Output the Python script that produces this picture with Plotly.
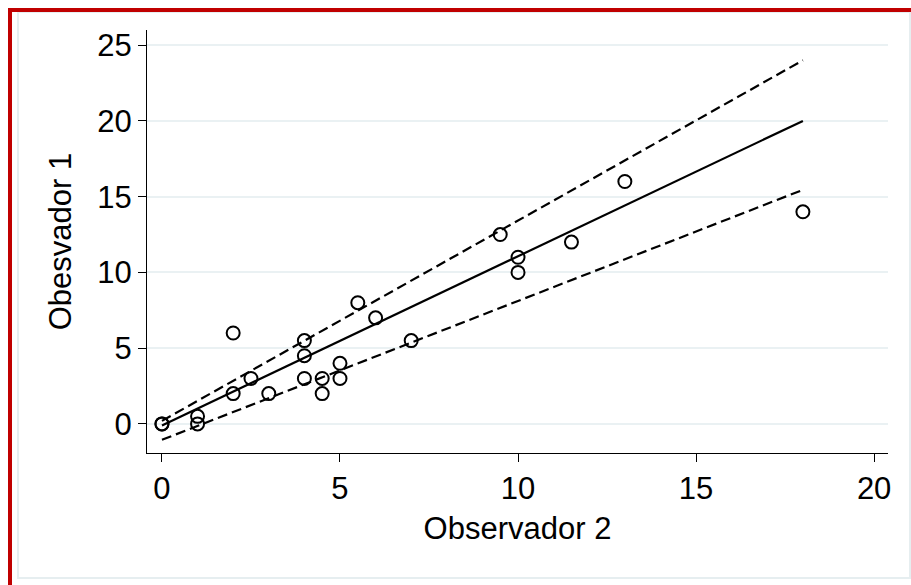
import plotly.graph_objects as go

# Observed points (Observador 2, Obesvador 1)
obs2 = [0, 0, 1, 1, 2, 2, 2.5, 3, 4, 4, 4, 4.5, 4.5, 5, 5, 5.5, 6, 7, 9.5, 10, 10, 11.5, 13, 18]
obs1 = [0, 0, 0.5, 0, 6, 2, 3, 2, 5.5, 4.5, 3, 3, 2, 4, 3, 8, 7, 5.5, 12.5, 11, 10, 12, 16, 14]

# Fitted line and limits (endpoints)
line_x = [0, 18]
fit_y = [-0.1, 20.0]
upper_y = [0.2, 24.0]
lower_y = [-1.05, 15.45]

x_ticks = [0, 5, 10, 15, 20]
y_ticks = [0, 5, 10, 15, 20, 25]

FONT = "Liberation Sans, Arial, Helvetica, sans-serif"

fig = go.Figure()
fig.add_trace(go.Scatter(x=line_x, y=upper_y, mode="lines",
                         line=dict(color="black", width=2.2, dash="10px,5px")))
fig.add_trace(go.Scatter(x=line_x, y=lower_y, mode="lines",
                         line=dict(color="black", width=2.2, dash="10px,5px")))
fig.add_trace(go.Scatter(x=line_x, y=fit_y, mode="lines",
                         line=dict(color="black", width=2.2)))
fig.add_trace(go.Scatter(x=obs2, y=obs1, mode="markers",
                         marker=dict(symbol="circle-open", size=13, color="black",
                                     line=dict(width=2, color="black"))))

# plot area in pixels
L, R, T, B = 147, 888, 30, 453
W, H = 911, 585
pw, ph = R - L, B - T

def px(x):
    return (x - L) / pw

def py(y):
    return (B - y) / ph

shapes = [
    # light inner frame
    dict(type="rect", xref="paper", yref="paper", x0=px(18), x1=px(910), y0=py(578), y1=py(12),
         line=dict(color="#e6eef0", width=2), layer="below"),
    # red border left and top
    dict(type="line", xref="paper", yref="paper", x0=px(10), x1=px(10), y0=py(8), y1=py(590),
         line=dict(color="#c00000", width=4)),
    dict(type="line", xref="paper", yref="paper", x0=px(8), x1=px(915), y0=py(10), y1=py(10),
         line=dict(color="#c00000", width=4)),
]

fig.update_layout(
    width=W, height=H,
    margin=dict(l=L, r=W - R, t=T, b=H - B, pad=0),
    paper_bgcolor="white", plot_bgcolor="white",
    showlegend=False,
    font=dict(family=FONT, size=31, color="black"),
    shapes=shapes,
    xaxis=dict(range=[-0.42, 20.39], tickvals=x_ticks, ticks="outside", ticklen=8,
               tickwidth=1, tickcolor="black", showline=True, linecolor="black", linewidth=1,
               showgrid=False, zeroline=False,
               title=dict(text="Observador 2", standoff=12, font=dict(size=31)),
               tickfont=dict(size=31)),
    yaxis=dict(range=[-1.92, 26.0], tickvals=y_ticks, ticks="outside", ticklen=8,
               tickwidth=1, tickcolor="black", showline=True, linecolor="black", linewidth=1,
               showgrid=True, gridcolor="#eaf1f3", gridwidth=2, zeroline=False,
               title=dict(text="Obesvador 1", standoff=16, font=dict(size=31)),
               tickfont=dict(size=31)),
)

fig.write_html("out.html")
